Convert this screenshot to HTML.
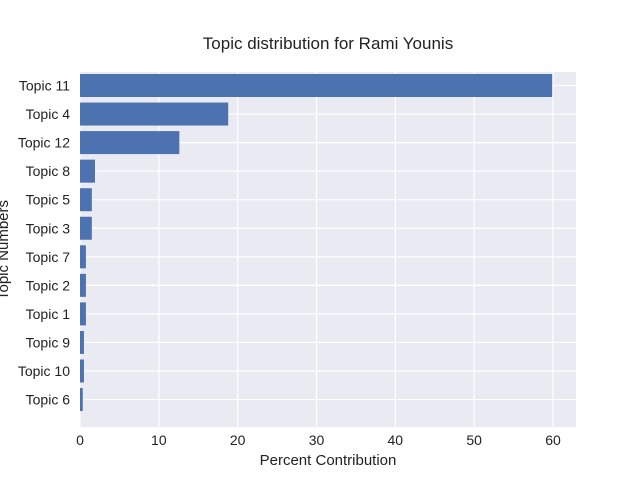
<!DOCTYPE html>
<html><head><meta charset="utf-8"><style>
body{margin:0;background:#fff;}
svg{display:block;font-family:"Liberation Sans",Arial,sans-serif;}
</style></head><body>
<svg id="chart" width="640" height="480">
<text x="328" y="49" font-size="17" text-anchor="middle" fill="#222">Topic distribution for Rami Younis</text>
<rect x="80" y="72" width="496" height="355" fill="#eaeaf2"/>
<g id="grid"></g><g id="bars"></g><g id="ticks"></g>
<text x="328" y="465" font-size="15" text-anchor="middle" fill="#222">Percent Contribution</text>
<text transform="translate(8,250) rotate(-90)" font-size="15" text-anchor="middle" fill="#222">Topic Numbers</text>
</svg>
<script>
const categories=["Topic 11","Topic 4","Topic 12","Topic 8","Topic 5","Topic 3","Topic 7","Topic 2","Topic 1","Topic 9","Topic 10","Topic 6"];
const values=[59.9,18.8,12.6,1.9,1.5,1.5,0.75,0.75,0.75,0.5,0.5,0.35];
const xTicks=[0,10,20,30,40,50,60];
const NS="http://www.w3.org/2000/svg";
const x0=80,pxPer=7.883;
const xs=v=>x0+v*pxPer;
const yc=i=>85.5+i*28.55;
const g=document.getElementById('grid'),b=document.getElementById('bars'),t=document.getElementById('ticks');
function mk(tag,attrs,parent){const e=document.createElementNS(NS,tag);for(const k in attrs)e.setAttribute(k,attrs[k]);parent.appendChild(e);return e;}
xTicks.forEach(v=>{
 const l=mk('line',{x1:xs(v),x2:xs(v),y1:72,y2:427,stroke:'#fff','stroke-width':1.2},g);
 
 
 const tx=mk('text',{x:xs(v),y:445,'font-size':14,'text-anchor':'middle',fill:'#222'},t);
 tx.textContent=v;
 
 
});
categories.forEach((c,i)=>{
 const l=mk('line',{x1:80,x2:576,y1:yc(i),y2:yc(i),stroke:'#fff','stroke-width':1.2},g);
 
 
 const r=mk('rect',{x:x0,y:yc(i)-11.5,width:xs(values[i])-x0,height:23,fill:'#4c72b0'},b);
 
 
 const tx=mk('text',{x:70,y:yc(i)+5,'font-size':14,'text-anchor':'end',fill:'#222'},t);
 tx.textContent=c;
 
 
});
</script>
</body></html>
